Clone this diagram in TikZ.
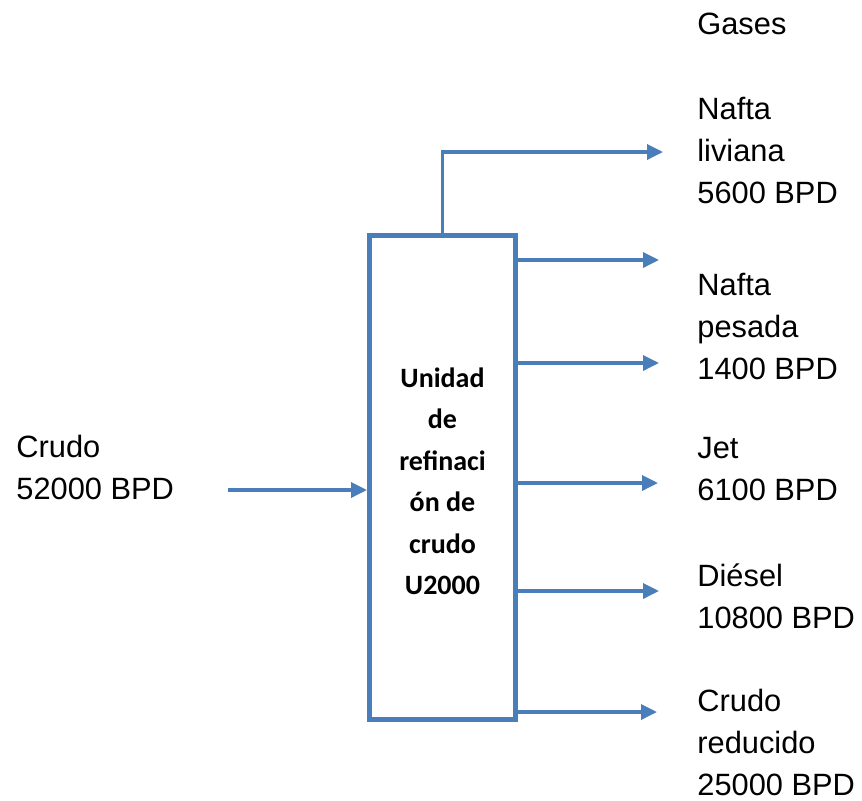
\documentclass[tikz,border=0pt]{standalone}
\usepackage{fontspec}
\setmainfont{Liberation Sans}
\newfontfamily\calibri{Carlito}
\usetikzlibrary{arrows.meta}
\definecolor{flujo}{RGB}{74,126,187}

\begin{document}
\begin{tikzpicture}[x=0.5pt,y=-0.5pt,
  linea/.style={draw=flujo,line width=1.7pt,-{Triangle[length=8pt,width=7.5pt]}},
  etiqueta/.style={anchor=west,inner sep=0pt,align=left,font=\fontsize{15.4}{21}\selectfont}]
\useasboundingbox (0,0) rectangle (862,800);
\node[draw=flujo,line width=2.6pt,minimum width=72.9pt,minimum height=241.9pt,inner sep=0pt] (unidad) at (442.5,477.5) {};
\node[font=\calibri\bfseries\fontsize{14}{20.75}\selectfont,align=center,inner sep=0pt] (unidadtxt) at (442.5,481.5) {Unidad\\de\\refinaci\\ón de\\crudo\\U2000};
\node[etiqueta] (crudo) at (16,467.5) {Crudo\\52000 BPD};
\node[etiqueta] (gases) at (697,24) {Gases};
\node[etiqueta] (liviana) at (697,150.5) {Nafta\\liviana\\5600 BPD};
\node[etiqueta] (pesada) at (697,326.5) {Nafta\\pesada\\1400 BPD};
\node[etiqueta] (jet) at (697,469) {Jet\\6100 BPD};
\node[etiqueta] (diesel) at (697,596) {Diésel\\10800 BPD};
\node[etiqueta] (reducido) at (697,742.5) {Crudo\\reducido\\25000 BPD};
\coordinate (entrada) at (228,490);
\coordinate (sal1) at (663,152);
\coordinate (sal2) at (659,260);
\coordinate (sal3) at (659,363);
\coordinate (sal4) at (658,483);
\coordinate (sal5) at (659,591);
\coordinate (sal6) at (657,712);
\draw[linea] (entrada) -- (unidad.west |- entrada);
\draw[linea] (unidad.north) |- (sal1);
\draw[linea] (unidad.east |- sal2) -- (sal2);
\draw[linea] (unidad.east |- sal3) -- (sal3);
\draw[linea] (unidad.east |- sal4) -- (sal4);
\draw[linea] (unidad.east |- sal5) -- (sal5);
\draw[linea] (unidad.east |- sal6) -- (sal6);
\end{tikzpicture}
\end{document}
